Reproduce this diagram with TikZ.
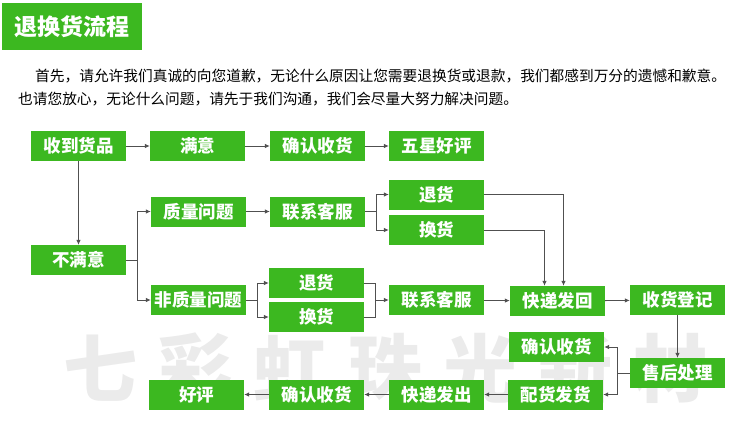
\documentclass[tikz,border=0pt]{standalone}
\usepackage{fontspec}
\newfontfamily\cjk{Noto Sans CJK SC}
\usetikzlibrary{arrows.meta}
\definecolor{boxgreen}{RGB}{60,184,32}
\definecolor{linegray}{RGB}{80,80,80}

\begin{document}
\begin{tikzpicture}[x=1pt, y=-1pt,
  box/.style={fill=boxgreen, text=white, minimum width=95pt, minimum height=30pt,
    inner sep=0pt, font=\cjk\bfseries\fontsize{17.5}{17.5}\selectfont},
  line/.style={draw=linegray, line width=0.8pt},
  link/.style={line, -{Latex[length=5pt, width=4.5pt]}}]
  \useasboundingbox (0,0) rectangle (750,432);
  % watermark
  \foreach \ch [count=\i] in {七,彩,虹,珠,光,新,材}
    \node[text=black!8, font=\cjk\bfseries\fontsize{74}{74}\selectfont]
      at ({5+95*\i}, 368) {\ch};
  % title and text
  \node[fill=boxgreen, text=white, minimum width=140pt, minimum height=47pt,
    font=\cjk\bfseries\fontsize{23}{23}\selectfont] (title) at (72,26.5) {退换货流程};
  \node[anchor=west, inner sep=0pt, font=\cjk\fontsize{14.7}{16}\selectfont] (line1) at (35,76)
    {首先，请允许我们真诚的向您道歉，无论什么原因让您需要退换货或退款，我们都感到万分的遗憾和歉意。};
  \node[anchor=west, inner sep=0pt, font=\cjk\fontsize{14.7}{16}\selectfont] (line2) at (18,99)
    {也请您放心，无论什么问题，请先于我们沟通，我们会尽量大努力解决问题。};
  % boxes
  \node[box] (got) at (78.5,146) {收到货品};
  \node[box] (ok) at (197.5,146) {满意};
  \node[box] (confA) at (317.5,146) {确认收货};
  \node[box] (star) at (436.5,146) {五星好评};
  \node[box] (quality) at (198.5,211.5) {质量问题};
  \node[box] (serviceA) at (317.5,211.5) {联系客服};
  \node[box] (retA) at (436.5,194.5) {退货};
  \node[box] (exchA) at (436.5,230) {换货};
  \node[box] (unhappy) at (78.5,260) {不满意};
  \node[box] (other) at (198.5,300) {非质量问题};
  \node[box] (retB) at (316.5,283) {退货};
  \node[box] (exchB) at (316.5,317) {换货};
  \node[box] (serviceB) at (436.5,300) {联系客服};
  \node[box] (back) at (557.5,301) {快递发回};
  \node[box] (register) at (677.5,300) {收货登记};
  \node[box] (confB) at (556.5,347) {确认收货};
  \node[box] (after) at (677.5,373) {售后处理};
  \node[box] (ship) at (555.5,394.5) {配货发货};
  \node[box] (out) at (436.5,394.5) {快递发出};
  \node[box] (confC) at (316.5,394.5) {确认收货};
  \node[box] (good) at (196.5,394.5) {好评};
  % junctions
  \coordinate (j1) at (137,260);
  \coordinate (j2) at (376,211.5);
  \coordinate (j3) at (257,300);
  \coordinate (j4) at (375,300);
  \coordinate (j5) at (617,373);
  % connectors
  \draw[link] (got) -- (ok);
  \draw[link] (ok) -- (confA);
  \draw[link] (confA) -- (star);
  \draw[link] (got) -- (unhappy);
  \draw[line] (unhappy) -- (j1);
  \draw[link] (j1) |- (quality);
  \draw[link] (j1) |- (other);
  \draw[link] (quality) -- (serviceA);
  \draw[line] (serviceA) -- (j2);
  \draw[link] (j2) |- (retA);
  \draw[link] (j2) |- (exchA);
  \draw[line] (other) -- (j3);
  \draw[link] (j3) |- (retB);
  \draw[link] (j3) |- (exchB);
  \draw[line] (retB) -| (j4);
  \draw[line] (exchB) -| (j4);
  \draw[link] (j4) -- (serviceB);
  \draw[link] (serviceB) -- (back);
  \draw[link] (retA) -| ([xshift=6pt]back.north);
  \draw[link] (exchA) -| ([xshift=-13pt]back.north);
  \draw[link] (back) -- (register);
  \draw[link] (register) -- (after);
  \draw[line] (after) -- (j5);
  \draw[link] (j5) |- (confB);
  \draw[link] (j5) |- (ship);
  \draw[link] (ship) -- (out);
  \draw[link] (out) -- (confC);
  \draw[link] (confC) -- (good);
\end{tikzpicture}
\end{document}
